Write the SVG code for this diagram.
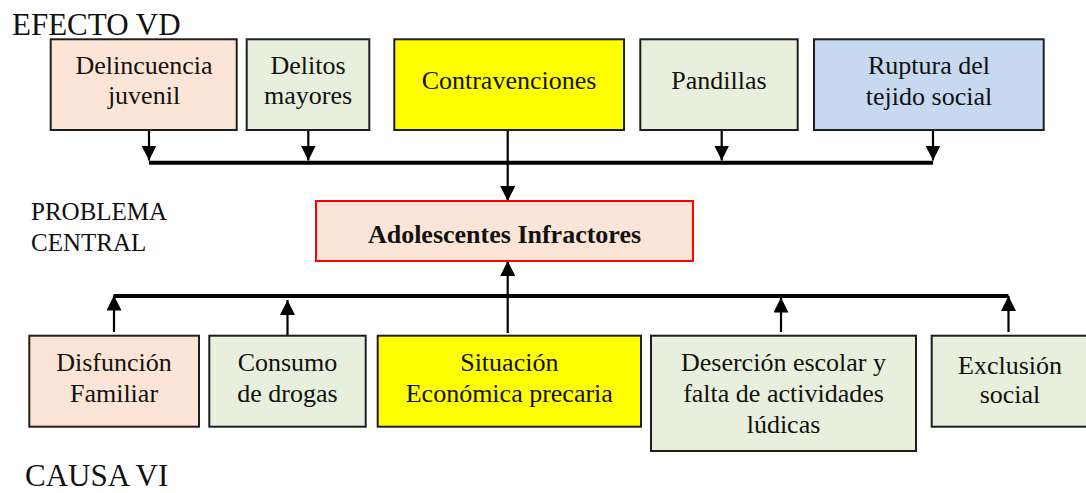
<svg xmlns="http://www.w3.org/2000/svg" width="1086" height="493" viewBox="0 0 1086 493">
<style>
.box{stroke:#1e1e1e;stroke-width:2}
.peach{fill:#fce5d6}
.green{fill:#e8efdd}
.yellow{fill:#ffff00}
.blue{fill:#c6d9f0}
.t{font-family:"Liberation Serif","Times New Roman",serif;font-size:26px;fill:#111;text-anchor:middle}
.h{font-family:"Liberation Serif","Times New Roman",serif;font-size:31px;fill:#111}
.lbl{font-family:"Liberation Serif","Times New Roman",serif;font-size:25px;fill:#111}
.bus{stroke:#000;stroke-width:4;fill:none}
.arr{stroke:#000;stroke-width:2.2;fill:none;marker-end:url(#ah)}
</style>
<defs>
<marker id="ah" markerUnits="userSpaceOnUse" markerWidth="15" markerHeight="15" viewBox="0 0 15 15" refX="15" refY="7.5" orient="auto">
<path d="M0,0 L15,7.5 L0,15 z" fill="#000"/>
</marker>
</defs>
<rect width="1086" height="493" fill="#fff"/>

<text class="h" x="12" y="35">EFECTO VD</text>
<text class="lbl" x="31" y="220">PROBLEMA</text>
<text class="lbl" x="31" y="251">CENTRAL</text>
<text class="h" x="25" y="486">CAUSA VI</text>

<g id="connectors">
<line class="bus" x1="149" y1="162.7" x2="933" y2="162.7"/>
<line class="arr" x1="149" y1="131" x2="149" y2="160.5"/>
<line class="arr" x1="308.3" y1="131" x2="308.3" y2="160.5"/>
<line class="arr" x1="721.7" y1="131" x2="721.7" y2="160.5"/>
<line class="arr" x1="933" y1="131" x2="933" y2="160.5"/>
<line class="arr" x1="507.7" y1="131" x2="507.7" y2="201"/>
<line class="arr" x1="507.7" y1="333" x2="507.7" y2="261"/>
<line class="bus" x1="113.5" y1="296" x2="1008.5" y2="296"/>
<line class="arr" x1="114" y1="332" x2="114" y2="295.5"/>
<line class="arr" x1="287.5" y1="336" x2="287.5" y2="300"/>
<line class="arr" x1="781" y1="332" x2="781" y2="297.5"/>
<line class="arr" x1="1008.5" y1="332" x2="1008.5" y2="296"/>
</g>

<g id="n-delincuencia">
<rect class="box peach" x="50.7" y="39.3" width="186" height="90.7"/>
<text class="t" x="144" y="74">Delincuencia</text>
<text class="t" x="144" y="104">juvenil</text>
</g>
<g id="n-delitos">
<rect class="box green" x="246.7" y="39.3" width="122.6" height="90.7"/>
<text class="t" x="308" y="74">Delitos</text>
<text class="t" x="308" y="104">mayores</text>
</g>
<g id="n-contravenciones">
<rect class="box yellow" x="394.3" y="39.3" width="229.7" height="90.7"/>
<text class="t" x="509" y="89.3">Contravenciones</text>
</g>
<g id="n-pandillas">
<rect class="box green" x="640.3" y="39.3" width="157.4" height="90.7"/>
<text class="t" x="719" y="89.3">Pandillas</text>
</g>
<g id="n-ruptura">
<rect class="box blue" x="814" y="39.3" width="229.7" height="90.7"/>
<text class="t" x="929" y="74">Ruptura del</text>
<text class="t" x="929" y="105">tejido social</text>
</g>

<g id="n-adolescentes">
<rect x="316" y="201" width="377" height="60" fill="#fce5d6" stroke="#ff0000" stroke-width="2"/>
<text class="t" x="504.5" y="243" font-weight="bold">Adolescentes Infractores</text>
</g>

<g id="n-disfuncion">
<rect class="box peach" x="29.3" y="335.7" width="169.7" height="91"/>
<text class="t" x="114" y="371">Disfunción</text>
<text class="t" x="114" y="401.7">Familiar</text>
</g>
<g id="n-consumo">
<rect class="box green" x="209.3" y="335.7" width="156.4" height="91"/>
<text class="t" x="287.5" y="371">Consumo</text>
<text class="t" x="287.5" y="401.7">de drogas</text>
</g>
<g id="n-situacion">
<rect class="box yellow" x="377.7" y="335.7" width="263.3" height="91"/>
<text class="t" x="509.3" y="371">Situación</text>
<text class="t" x="509.3" y="401.7">Económica precaria</text>
</g>
<g id="n-desercion">
<rect class="box green" x="651" y="335.7" width="265" height="115.3"/>
<text class="t" x="783.5" y="371">Deserción escolar y</text>
<text class="t" x="783.5" y="402">falta de actividades</text>
<text class="t" x="783.5" y="433">lúdicas</text>
</g>
<g id="n-exclusion">
<rect class="box green" x="931.7" y="335.7" width="158" height="91"/>
<text class="t" x="1010" y="374">Exclusión</text>
<text class="t" x="1010" y="403.3">social</text>
</g>
</svg>
